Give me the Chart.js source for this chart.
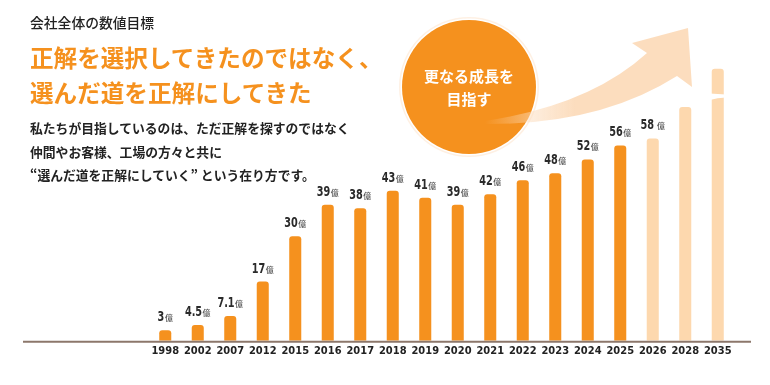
<!DOCTYPE html>
<html lang="ja">
<head>
<meta charset="utf-8">
<script src="https://cdn.jsdelivr.net/npm/chart.js@4"></script>
<style>
  html, body { margin: 0; padding: 0; background: #fff; }
  #wrap { position: relative; width: 770px; height: 385px; overflow: hidden; font-family: "Noto Sans CJK JP", sans-serif; }
  #myChart { position: absolute; left: 0; top: 0; }
  .txt { position: absolute; left: 30px; white-space: nowrap; }
  #head { top: 12px; font-size: 13.8px; line-height: 20px; color: #222; font-weight: 500; }
  #title { top: 40px; font-size: 23.6px; line-height: 35px; color: #F5911E; font-weight: 700; }
  #body { top: 116px; font-size: 12.8px; line-height: 23.5px; color: #222; font-weight: 600; }
  #circle {
    position: absolute; left: 402px; top: 20px; width: 134px; height: 134px; border-radius: 50%;
    background: #F5911E; box-shadow: 0 0 0 1.5px #fff, 0 0 0 3px rgba(252, 222, 194, 0.45);
    color: #fff; font-weight: 700; font-size: 15px; line-height: 23px; text-align: center;
    display: flex; align-items: center; justify-content: center;
  }
  #arrow { position: absolute; left: 0; top: 0; }
</style>
</head>
<body>
<div id="wrap">
  <canvas id="myChart" width="770" height="385"></canvas>
  <div class="txt" id="head">会社全体の数値目標</div>
  <div class="txt" id="title">正解を選択してきたのではなく、<br>選んだ道を正解にしてきた</div>
  <div class="txt" id="body">私たちが目指しているのは、ただ正解を探すのではなく<br>仲間やお客様、工場の方々と共に<br>“選んだ道を正解にしていく”&nbsp;という在り方です。</div>
  <div id="circle"><div>更なる成長を<br>目指す</div></div>
  <svg id="arrow" width="770" height="385">
    <defs>
      <linearGradient id="fade" gradientUnits="userSpaceOnUse" x1="485" y1="0" x2="575" y2="0">
        <stop offset="0" stop-color="#FCDDBE" stop-opacity="0"></stop>
        <stop offset="1" stop-color="#FCDDBE" stop-opacity="1"></stop>
      </linearGradient>
    </defs>
    <path d="M485,121 Q590,105 647,53 L632,43 L688,28 L692,87 L677,76 Q600,125 485,124 Z" fill="url(#fade)"></path>
  </svg>
</div>
<script>
"use strict";

// years on the x axis
let years = ["1998", "2002", "2007", "2012", "2015", "2016", "2017", "2018", "2019", "2020",
  "2021", "2022", "2023", "2024", "2025", "2026", "2028", "2035"];
// sales (億円); 2028 and 2035 have no printed value
let sales = [3, 4.5, 7.1, 17, 30, 39, 38, 43, 41, 39, 42, 46, 48, 52, 56, 58, 67, 78];
// text printed above each bar
let valueLabels = ["3", "4.5", "7.1", "17", "30", "39", "38", "43", "41", "39",
  "42", "46", "48", "52", "56", "58", "", ""];
// first target (future) year
let firstTarget = 15;

const orange = "#F5911E";
const peach = "#FDD8AE";

let barColors = [];
for (let i = 0; i < years.length; i++) {
  barColors.push(i < firstTarget ? orange : peach);
}

const barExtras = {
  id: "barExtras",
  afterDatasetsDraw(chart) {
    const ctx = chart.ctx;
    const bars = chart.getDatasetMeta(0).data;
    const area = chart.chartArea;

    // base line, wider than the plot area
    ctx.save();
    ctx.strokeStyle = "#8C776B";
    ctx.lineWidth = 2;
    ctx.beginPath();
    ctx.moveTo(23, area.bottom + 1);
    ctx.lineTo(751, area.bottom + 1);
    ctx.stroke();

    // break mark on the last bar
    let last = bars[bars.length - 1];
    let by = last.y + (area.bottom - last.y) * 0.1;
    let hw = last.width / 2 + 2;
    ctx.fillStyle = "#fff";
    ctx.beginPath();
    ctx.moveTo(last.x - hw, by - 2.5);
    ctx.lineTo(last.x + hw, by - 1.5);
    ctx.lineTo(last.x + hw, by + 1.5);
    ctx.quadraticCurveTo(last.x, by + 1.5, last.x - hw, by + 4);
    ctx.closePath();
    ctx.fill();

    // value labels, narrow digits + small 億
    const sx = 0.8;
    let numFont = "bold 13.5px 'DejaVu Sans Condensed'";
    let unitFont = "500 8px 'Noto Sans CJK JP'";
    ctx.textBaseline = "alphabetic";
    ctx.textAlign = "left";
    for (let i = 0; i < bars.length; i++) {
      let txt = valueLabels[i];
      if (!txt) continue;
      ctx.font = numFont;
      let w1 = ctx.measureText(txt).width * sx;
      ctx.font = unitFont;
      let w2 = ctx.measureText("億").width;
      let gap = i === firstTarget ? 3 : 0.5;
      let x0 = bars[i].x - (w1 + gap + w2) / 2;
      let y0 = bars[i].y - 9;
      ctx.save();
      ctx.translate(x0, y0);
      ctx.scale(sx, 1);
      ctx.font = numFont;
      ctx.fillStyle = "#2a2a2a";
      ctx.fillText(txt, 0, 0);
      ctx.restore();
      ctx.font = unitFont;
      ctx.fillStyle = "#555";
      ctx.fillText("億", x0 + w1 + gap, y0);
    }
    ctx.restore();
  },
};

const data = {
  labels: years,
  datasets: [
    {
      data: sales,
      backgroundColor: barColors,
      borderRadius: { topLeft: 3, topRight: 3 },
      borderSkipped: "bottom",
      barPercentage: 0.37,
      categoryPercentage: 1,
    },
  ],
};

const config = {
  type: "bar",
  data: data,
  plugins: [barExtras],
  options: {
    responsive: false,
    animation: false,
    layout: { padding: { left: 149, right: 36, top: 0, bottom: 23 } },
    plugins: { legend: { display: false }, tooltip: { enabled: false } },
    scales: {
      x: {
        grid: { display: false, drawTicks: false },
        border: { display: false },
        ticks: {
          color: "#222",
          font: { family: "'DejaVu Sans Condensed'", weight: "bold", size: 11 },
          padding: 4,
          maxRotation: 0,
          autoSkip: false,
        },
      },
      y: { display: false, min: 0, max: 97.7 },
    },
  },
};

new Chart(document.getElementById("myChart"), config);
</script>
</body>
</html>
